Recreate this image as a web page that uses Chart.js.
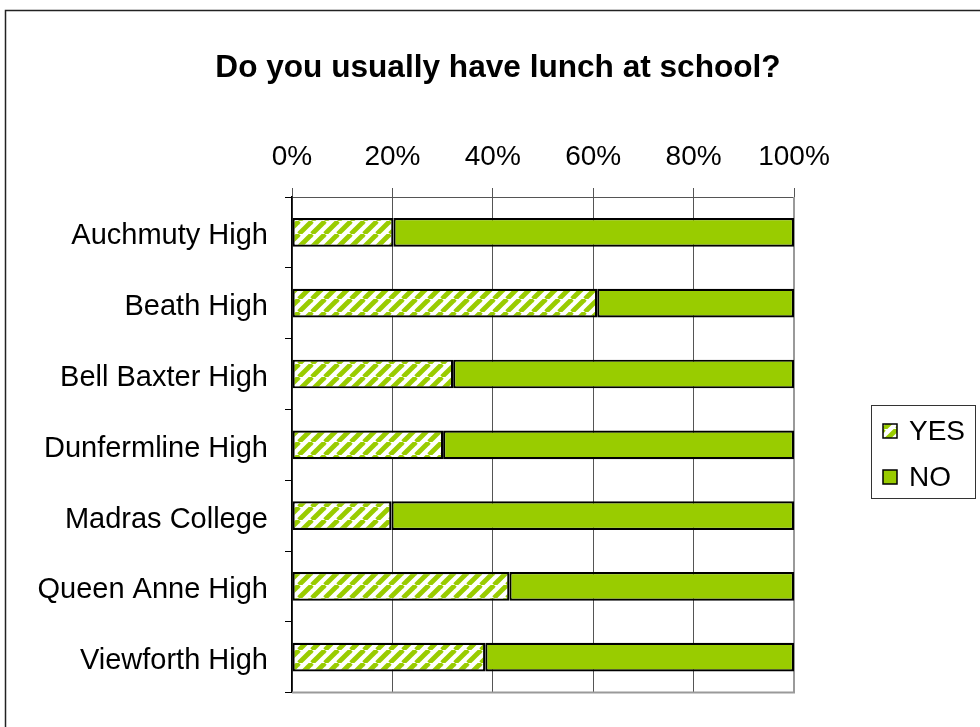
<!DOCTYPE html>
<html>
<head>
<meta charset="utf-8">
<script src="https://cdn.jsdelivr.net/npm/chart.js@4/dist/chart.umd.min.js"></script>
<style>
  body { margin: 0; background: #fff; }
  #wrap { width: 980px; height: 727px; }
</style>
</head>
<body>
<div id="wrap"><canvas id="lunchChart" width="980" height="727"></canvas></div>
<script>
// chart data
var titleText = 'Do you usually have lunch at school?';
var schools = ['Auchmuty High', 'Beath High', 'Bell Baxter High', 'Dunfermline High', 'Madras College', 'Queen Anne High', 'Viewforth High'];
var seriesNames = ['YES', 'NO'];
var yesValues = [20.2, 60.8, 32.1, 30.1, 19.8, 43.3, 38.5];
var noValues = [79.8, 39.2, 67.9, 69.9, 80.2, 56.7, 61.5];
var tickValues = [0, 20, 40, 60, 80, 100];

var GREEN = '#99cc00';
var FONT = '"Liberation Sans", Arial, sans-serif';

// diagonal hatch for the YES series
function makeHatch() {
    var s = 13;
    var c = document.createElement('canvas');
    c.width = s; c.height = s;
    var g = c.getContext('2d');
    g.fillStyle = '#fff';
    g.fillRect(0, 0, s, s);
    g.strokeStyle = GREEN;
    g.lineWidth = 4.8;
    for (var k = -1; k <= 1; k++) {
        g.beginPath();
        g.moveTo(k * s, s);
        g.lineTo(k * s + s, 0);
        g.stroke();
    }
    return g.createPattern(c, 'repeat');
}
var hatch = makeHatch();

// white page, outer frame, title, plot border and legend
var decor = {
    id: 'decor',
    beforeDraw: function(chart) {
        var ctx = chart.ctx;
        ctx.save();
        ctx.fillStyle = '#fff';
        ctx.fillRect(0, 0, chart.width, chart.height);
        ctx.restore();
    },
    beforeDatasetsDraw: function(chart) {
        var ctx = chart.ctx, a = chart.chartArea;
        ctx.save();
        ctx.strokeStyle = '#9a9a9a';
        ctx.lineWidth = 2;
        ctx.beginPath();
        ctx.moveTo(a.right, a.top);
        ctx.lineTo(a.right, a.bottom);
        ctx.lineTo(a.left, a.bottom);
        ctx.stroke();
        ctx.restore();
    },
    afterDraw: function(chart) {
        var ctx = chart.ctx;
        ctx.save();
        // outer frame
        ctx.strokeStyle = '#222';
        ctx.lineWidth = 1.5;
        ctx.strokeRect(5.5, 10.5, 990, 740);

        // title
        ctx.fillStyle = '#000';
        ctx.font = 'bold 31.6px ' + FONT;
        ctx.textAlign = 'center';
        ctx.textBaseline = 'middle';
        ctx.fillText(titleText, 498, 68);

        // legend
        ctx.strokeStyle = '#333';
        ctx.lineWidth = 1;
        ctx.strokeRect(871.5, 405.5, 104, 93);
        var fills = [hatch, GREEN];
        var rows = [431, 477];
        ctx.font = '28px ' + FONT;
        ctx.textAlign = 'left';
        for (var i = 0; i < seriesNames.length; i++) {
            ctx.fillStyle = fills[i];
            ctx.fillRect(883, rows[i] - 7, 14, 14);
            ctx.strokeStyle = '#000';
            ctx.lineWidth = 1.5;
            ctx.strokeRect(883, rows[i] - 7, 14, 14);
            ctx.fillStyle = '#000';
            ctx.fillText(seriesNames[i], 909, rows[i] + 1);
        }
        ctx.restore();
    }
};

var ctx = document.getElementById('lunchChart').getContext('2d');
new Chart(ctx, {
    type: 'bar',
    data: {
        labels: schools,
        datasets: [{
            label: seriesNames[0],
            data: yesValues,
            backgroundColor: hatch,
            borderColor: '#000',
            borderWidth: 2.2,
            borderSkipped: false,
            barPercentage: 0.405,
            categoryPercentage: 1
        }, {
            label: seriesNames[1],
            data: noValues,
            backgroundColor: GREEN,
            borderColor: '#000',
            borderWidth: 2.2,
            borderSkipped: false,
            barPercentage: 0.405,
            categoryPercentage: 1
        }]
    },
    options: {
        indexAxis: 'y',
        responsive: false,
        maintainAspectRatio: false,
        animation: false,
        layout: { padding: { left: 0, top: 95, right: 186, bottom: 19 } },
        plugins: {
            legend: { display: false },
            title: { display: false },
            tooltip: { enabled: false }
        },
        scales: {
            x: {
                position: 'top',
                stacked: true,
                min: 0,
                max: 100,
                afterBuildTicks: function(scale) {
                    scale.ticks = tickValues.map(function(v) { return { value: v }; });
                },
                afterFit: function(scale) { scale.height = 102; },
                ticks: {
                    color: '#000',
                    font: { family: FONT, size: 28 },
                    padding: 14,
                    maxRotation: 0,
                    callback: function(v) { return v + '%'; }
                },
                grid: { color: '#555', lineWidth: 1, tickLength: 9 },
                border: { color: '#555', width: 1 }
            },
            y: {
                stacked: true,
                afterFit: function(scale) { scale.width = 292; },
                ticks: {
                    color: '#000',
                    font: { family: FONT, size: 29 },
                    padding: 17,
                    labelOffset: 4
                },
                grid: { drawOnChartArea: false, offset: true, tickLength: 7, color: '#000', lineWidth: 1 },
                border: { color: '#000', width: 1.5 }
            }
        }
    },
    plugins: [decor]
});
</script>
</body>
</html>
